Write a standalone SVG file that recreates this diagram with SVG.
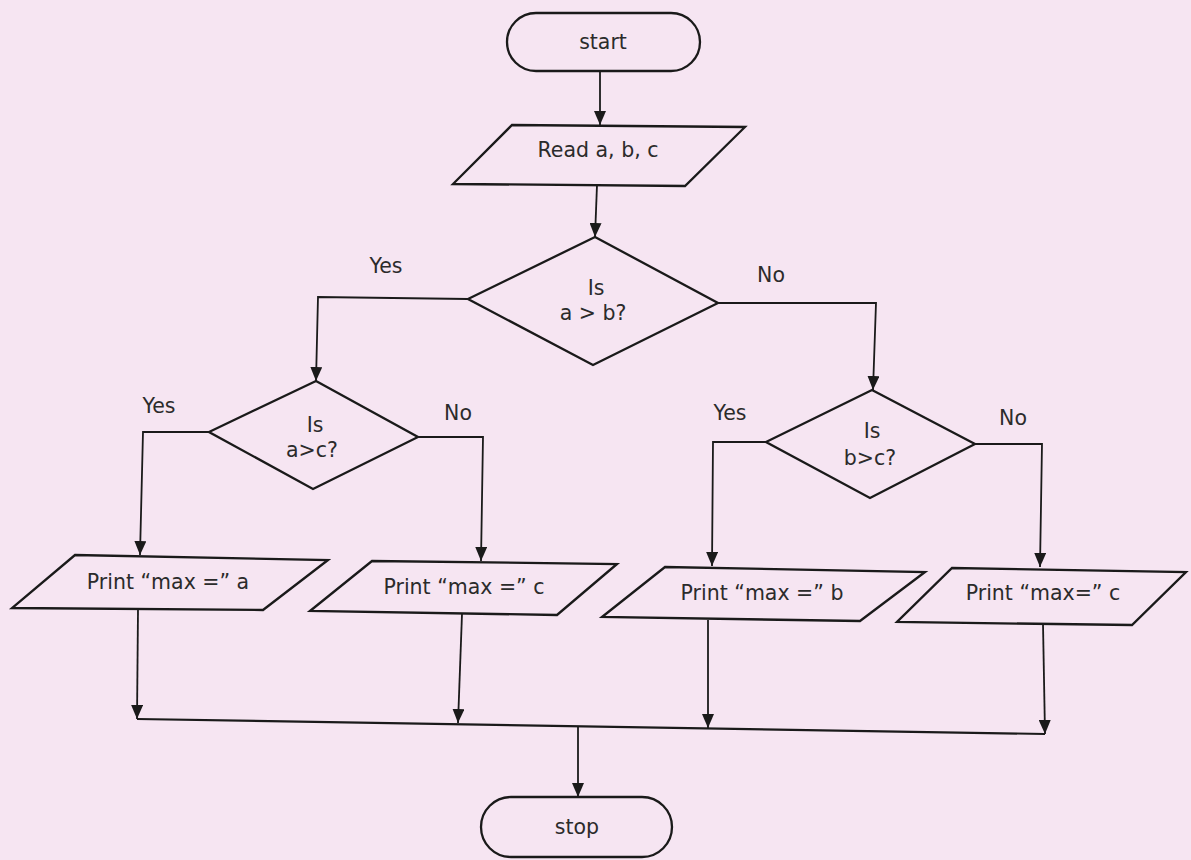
<svg xmlns="http://www.w3.org/2000/svg" width="1191" height="860" viewBox="0 0 1191 860">
<defs>
<style>
.bg{fill:#f6e5f2}
.shape{fill:none;stroke:#1a1a1a;stroke-width:2.3;stroke-linejoin:miter}
.conn{fill:none;stroke:#1a1a1a;stroke-width:1.8}
.t{font-family:"DejaVu Sans",Verdana,sans-serif;font-size:20.5px;fill:#2b2b2b;text-anchor:middle}
</style>
<marker id="arr" markerUnits="userSpaceOnUse" markerWidth="14" markerHeight="12" viewBox="0 0 14 12" refX="14" refY="6" orient="auto">
<path d="M0,0 L14,6 L0,12 z" fill="#1a1a1a"/>
</marker>
</defs>
<rect class="bg" x="0" y="0" width="1191" height="860"/>

<g id="start">
<rect class="shape" x="507" y="13" width="193" height="58" rx="29" ry="29"/>
<text class="t" x="603" y="49">start</text>
</g>

<g id="read">
<polygon class="shape" points="512,125 745,127 685,186 453,184"/>
<text class="t" x="598" y="157">Read a, b, c</text>
</g>

<g id="dec1">
<polygon class="shape" points="595,237 718,303 593,365 468,299"/>
<text class="t" x="596" y="295">Is</text>
<text class="t" x="593" y="320">a &gt; b?</text>
</g>

<g id="dec2">
<polygon class="shape" points="316,381 418,437 313,489 209,432"/>
<text class="t" x="315" y="432">Is</text>
<text class="t" x="312" y="457">a&gt;c?</text>
</g>

<g id="dec3">
<polygon class="shape" points="872,390 975,444 870,498 766,442"/>
<text class="t" x="872" y="438">Is</text>
<text class="t" x="870" y="465">b&gt;c?</text>
</g>

<g id="printA">
<polygon class="shape" points="75,555 328,560 263,610 12,608"/>
<text class="t" x="168" y="589">Print “max =” a</text>
</g>

<g id="printC1">
<polygon class="shape" points="372,561 617,564 557,615 310,611"/>
<text class="t" x="464" y="594">Print “max =” c</text>
</g>

<g id="printB">
<polygon class="shape" points="665,567 925,572 860,621 602,617"/>
<text class="t" x="762" y="600">Print “max =” b</text>
</g>

<g id="printC2">
<polygon class="shape" points="952,568 1186,572 1132,625 897,622"/>
<text class="t" x="1043" y="600">Print “max=” c</text>
</g>

<g id="stop">
<rect class="shape" x="481" y="797" width="191" height="60" rx="30" ry="30"/>
<text class="t" x="577" y="834">stop</text>
</g>

<g id="labels">
<text class="t" x="386" y="273">Yes</text>
<text class="t" x="771" y="282">No</text>
<text class="t" x="159" y="413">Yes</text>
<text class="t" x="458" y="420">No</text>
<text class="t" x="730" y="420">Yes</text>
<text class="t" x="1013" y="425">No</text>
</g>

<g id="connectors">
<line class="conn" x1="600" y1="71" x2="600" y2="125" marker-end="url(#arr)"/>
<line class="conn" x1="597" y1="185" x2="595" y2="237" marker-end="url(#arr)"/>
<polyline class="conn" points="468,299 318,297 316,381" marker-end="url(#arr)"/>
<polyline class="conn" points="718,303 876,303 873,390" marker-end="url(#arr)"/>
<polyline class="conn" points="209,432 143,432 140,555" marker-end="url(#arr)"/>
<polyline class="conn" points="418,437 483,437 481,561" marker-end="url(#arr)"/>
<polyline class="conn" points="766,442 713,442 712,566" marker-end="url(#arr)"/>
<polyline class="conn" points="975,444 1042,444 1040,567" marker-end="url(#arr)"/>
<line class="conn" x1="138" y1="610" x2="137" y2="719" marker-end="url(#arr)"/>
<line class="conn" x1="462" y1="614" x2="458" y2="723" marker-end="url(#arr)"/>
<line class="conn" x1="708" y1="620" x2="708" y2="728" marker-end="url(#arr)"/>
<line class="conn" x1="1043" y1="624" x2="1045" y2="734" marker-end="url(#arr)"/>
<line class="conn" style="stroke-width:2.2" x1="137" y1="719" x2="1045" y2="734"/>
<line class="conn" x1="578" y1="727" x2="578" y2="797" marker-end="url(#arr)"/>
</g>
</svg>
